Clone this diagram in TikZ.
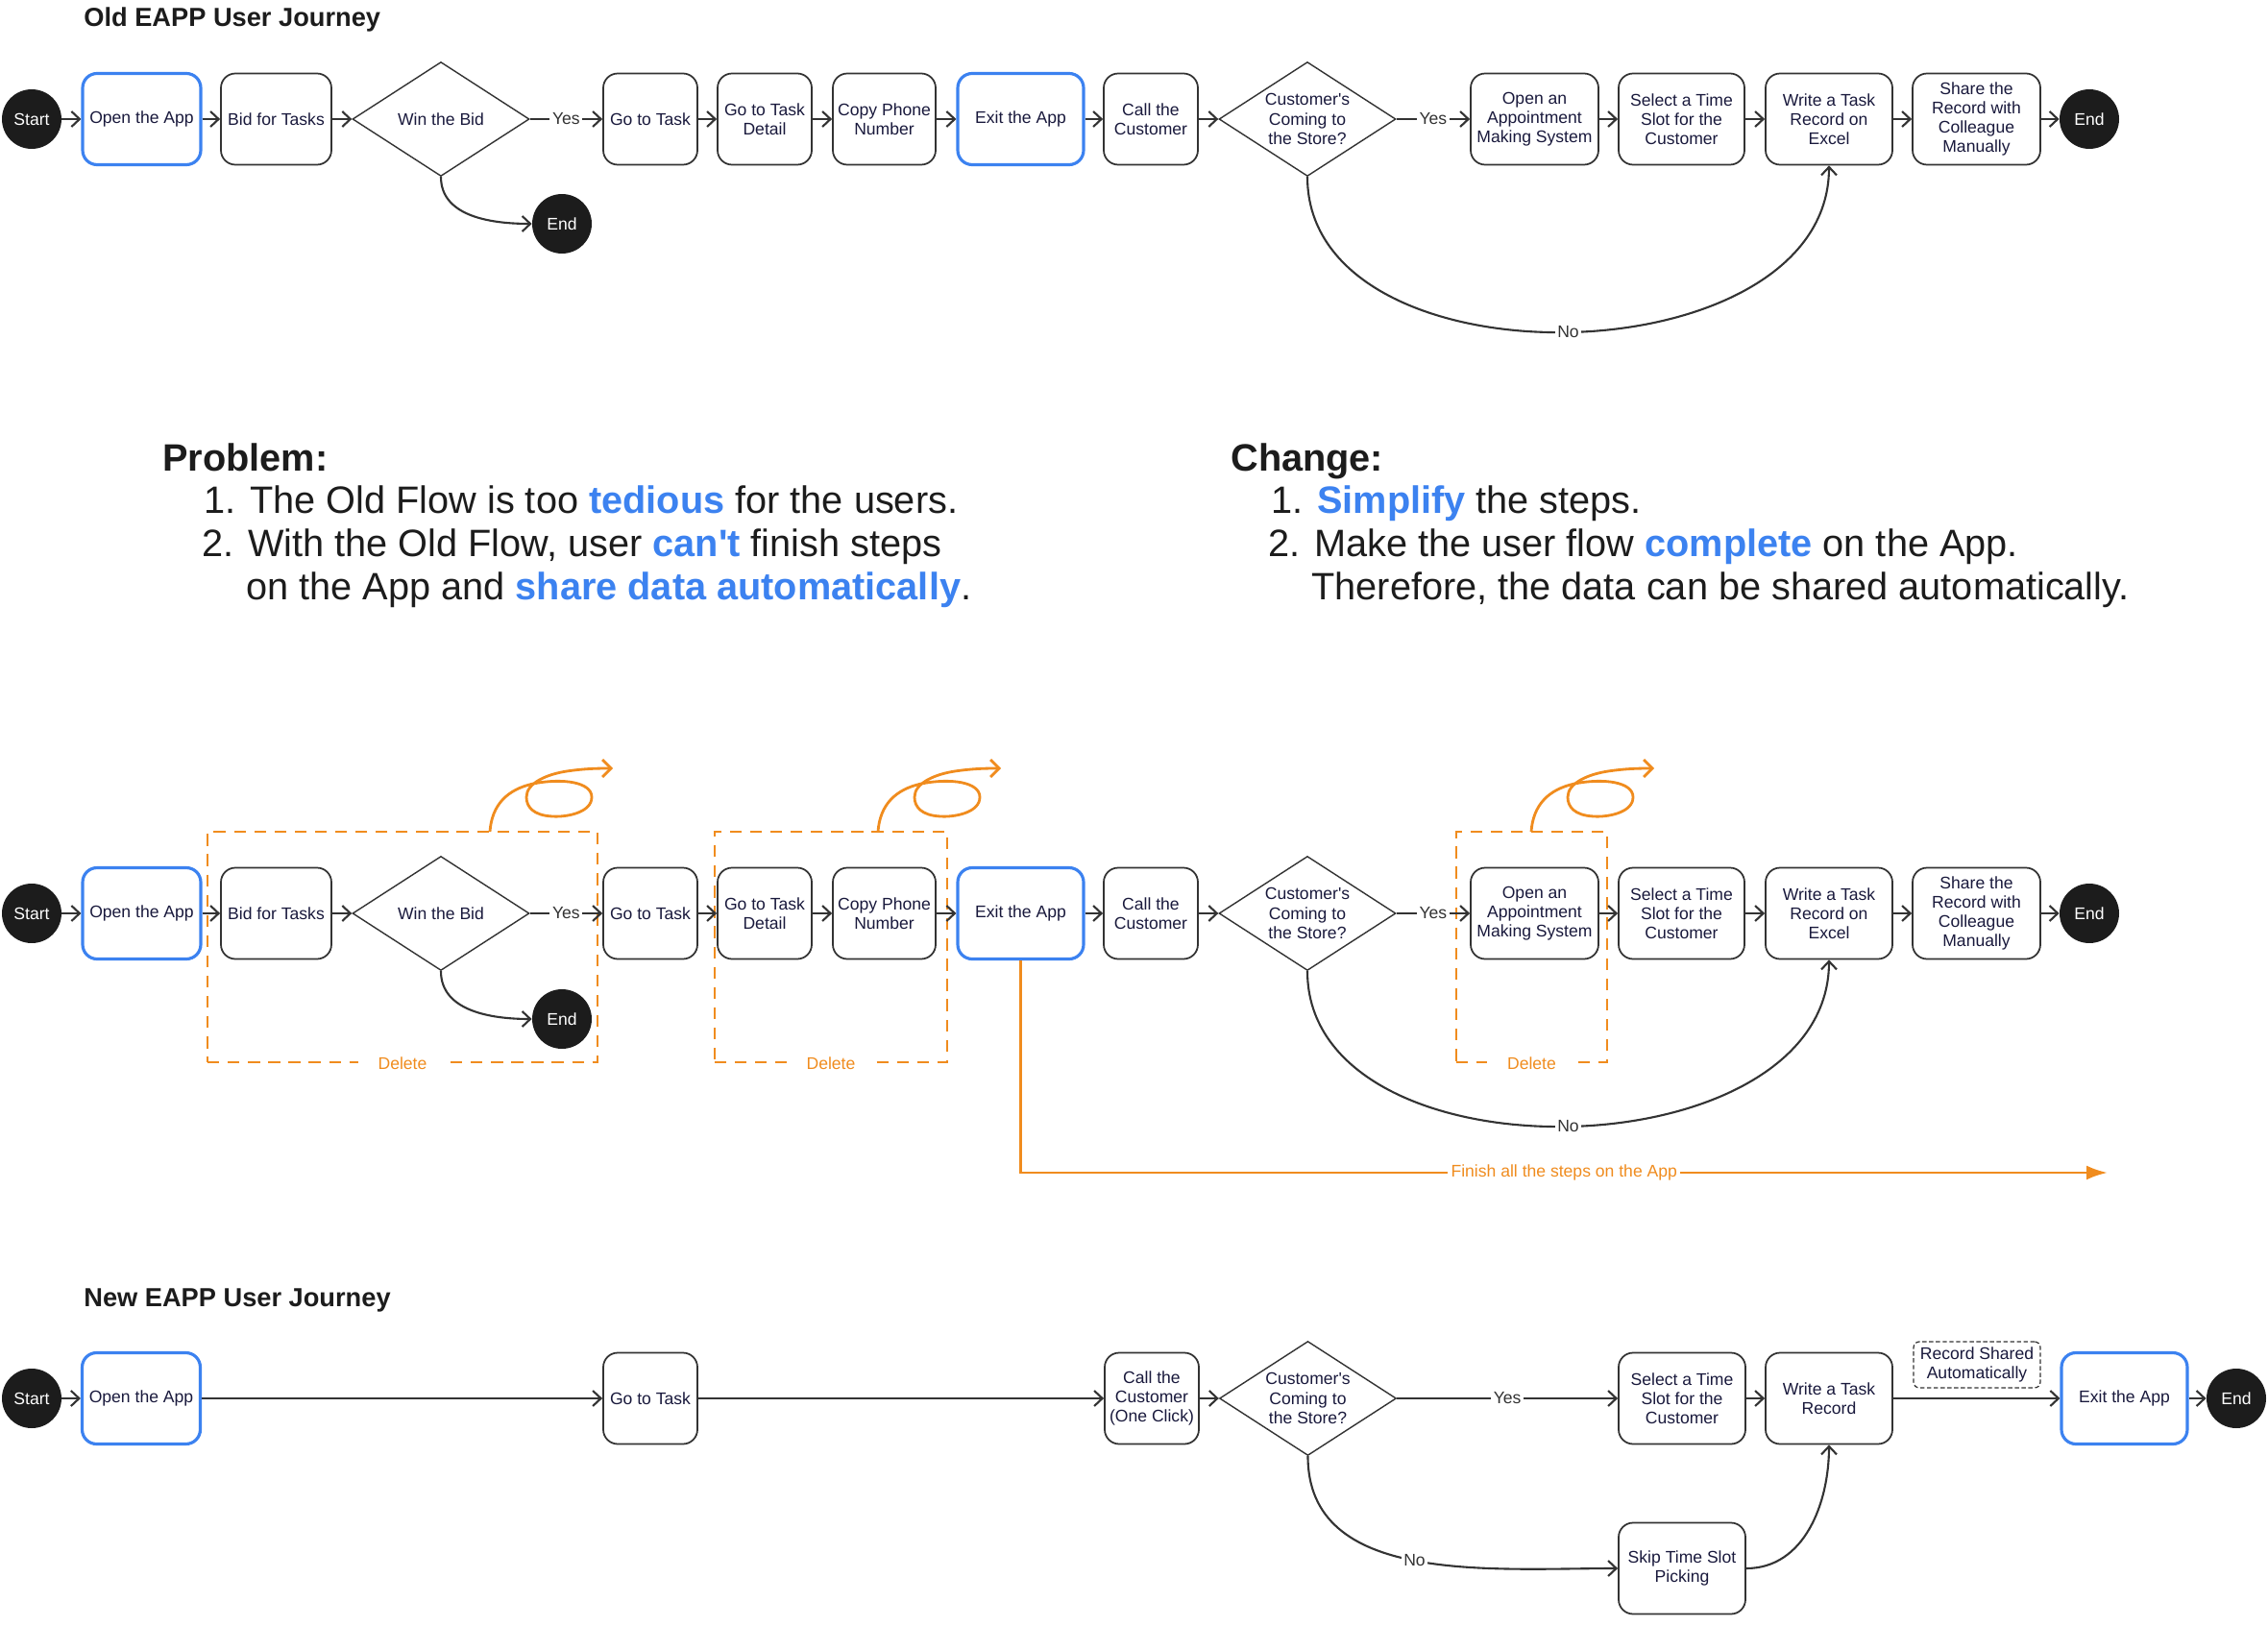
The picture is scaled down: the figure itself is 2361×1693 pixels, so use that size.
\documentclass[tikz,border=0pt]{standalone}
\usepackage{fontspec}
\setmainfont{Liberation Sans}
\usetikzlibrary{shapes.geometric,arrows.meta}

\definecolor{lineGrey}{RGB}{51,51,51}
\definecolor{appBlue}{RGB}{60,130,240}
\definecolor{delOrange}{RGB}{240,140,30}
\definecolor{txtNavy}{RGB}{25,25,60}
\definecolor{dotBlack}{RGB}{28,28,28}

\tikzset{
  stepbox/.style={draw=lineGrey, line width=1pt, rounded corners=0.3cm, minimum height=1.9cm, align=center, text=txtNavy, font=\fontsize{10}{11.5}\selectfont, inner sep=2pt},
  appbox/.style={stepbox, draw=appBlue, line width=1.8pt},
  recbox/.style={draw=lineGrey, line width=0.7pt, dash pattern=on 2.5pt off 1.5pt, rounded corners=0.12cm, minimum width=2.64cm, minimum height=0.96cm, align=center, text=txtNavy, font=\fontsize{10}{11.5}\selectfont, inner sep=1pt},
  choice/.style={draw=lineGrey, line width=0.8pt, shape=diamond, aspect=1.55, minimum width=3.68cm, minimum height=2.38cm, inner sep=0pt, align=center, text=txtNavy, font=\fontsize{10}{11.5}\selectfont},
  termdot/.style={circle, fill=dotBlack, minimum size=1.24cm, inner sep=0pt, text=white, font=\fontsize{10}{12}\selectfont},
  flow/.style={draw=lineGrey, line width=1.2pt, -{Straight Barb[length=1.7mm,width=3.2mm]}},
  edgelabel/.style={fill=white, text=lineGrey, font=\fontsize{10}{12}\selectfont, inner sep=1.5pt},
  delbox/.style={draw=delOrange, line width=1.6pt, dash pattern=on 7pt off 5pt},
  dellabel/.style={fill=white, text=delOrange, font=\fontsize{10}{12}\selectfont, inner xsep=0.42cm, inner ysep=2pt},
  finlabel/.style={fill=white, text=delOrange, font=\fontsize{10}{12}\selectfont, inner sep=2pt},
  squig/.style={draw=delOrange, line width=1.6pt, -{Straight Barb[length=1.8mm,width=3.6mm]}},
  finline/.style={draw=delOrange, line width=1.6pt, -{Latex[length=4.4mm,width=3mm]}},
  heading/.style={anchor=base west, inner sep=0pt, text=dotBlack, font=\bfseries\fontsize{15.5}{18}\selectfont},
  bigtext/.style={anchor=base west, inner sep=0pt, text=dotBlack, font=\fontsize{22.6}{27}\selectfont},
}
\newcommand{\hl}[1]{\textcolor{appBlue}{\textbf{#1}}}

\begin{document}
\begin{tikzpicture}[x=0.02cm,y=-0.02cm]
\useasboundingbox (0,0) rectangle (2361,1693);

% old journey
\node (oldtitle) [heading] at (87,28) {Old EAPP User Journey};

\node (start1) at (33,124) [termdot] {Start};
\node (open1) at (147.5,124) [appbox,minimum width=2.46cm] {Open the App};
\node (bid1) at (287.5,124) [stepbox,minimum width=2.30cm] {Bid for Tasks};
\node (win1) at (459,124) [choice] {Win the Bid};
\node (lost1) at (585,233) [termdot] {End};
\node (task1) at (677,124) [stepbox,minimum width=1.96cm] {Go to Task};
\node (detail1) at (796,124) [stepbox,minimum width=1.96cm] {Go to Task\\Detail};
\node (copy1) at (920.5,124) [stepbox,minimum width=2.14cm] {Copy Phone\\Number};
\node (exit1) at (1062.5,124) [appbox,minimum width=2.62cm] {Exit the App};
\node (call1) at (1198,124) [stepbox,minimum width=1.96cm] {Call the\\Customer};
\node (come1) at (1361,124) [choice] {Customer\textquotesingle s\\Coming to\\the Store?};
\node (appt1) at (1597.5,124) [stepbox,minimum width=2.66cm] {Open an\\Appointment\\Making System};
\node (slot1) at (1750.5,124) [stepbox,minimum width=2.62cm] {Select a Time\\Slot for the\\Customer};
\node (write1) at (1904,124) [stepbox,minimum width=2.64cm] {Write a Task\\Record on\\Excel};
\node (share1) at (2057.5,124) [stepbox,minimum width=2.66cm] {Share the\\Record with\\Colleague\\Manually};
\node (end1) at (2175,124) [termdot] {End};

\draw [flow] (start1) -- (open1);
\draw [flow] (open1) -- (bid1);
\draw [flow] (bid1) -- (win1);
\draw [flow] (win1) -- node [edgelabel] {Yes} (task1);
\draw [flow] (win1.south) to [out=-90,in=180] (lost1);
\draw [flow] (task1) -- (detail1);
\draw [flow] (detail1) -- (copy1);
\draw [flow] (copy1) -- (exit1);
\draw [flow] (exit1) -- (call1);
\draw [flow] (call1) -- (come1);
\draw [flow] (come1) -- node [edgelabel] {Yes} (appt1);
\draw [flow] (come1.south) to [out=-90,in=-90,looseness=1.05] node [edgelabel] {No} (write1.south);
\draw [flow] (appt1) -- (slot1);
\draw [flow] (slot1) -- (write1);
\draw [flow] (write1) -- (share1);
\draw [flow] (share1) -- (end1);

% problem and change
\node (prob) [bigtext,font=\bfseries\fontsize{22.6}{27}\selectfont] at (169,490) {Problem:};
\node (prob1) [bigtext] at (212,534) {1. The Old Flow is too \hl{tedious} for the users.};
\node (prob2) [bigtext] at (210,579) {2. With the Old Flow, user \hl{can\textquotesingle t} finish steps};
\node (prob3) [bigtext] at (256,624) {on the App and \hl{share data automatically}.};

\node (chg) [bigtext,font=\bfseries\fontsize{22.6}{27}\selectfont] at (1281,490) {Change:};
\node (chg1) [bigtext] at (1323,534) {1. \hl{Simplify} the steps.};
\node (chg2) [bigtext] at (1320,579) {2. Make the user flow \hl{complete} on the App.};
\node (chg3) [bigtext] at (1365,624) {Therefore, the data can be shared automatically.};

% marked old journey
\node (del1) at (419,986) [delbox,minimum width=8.12cm,minimum height=4.8cm] {};
\node (del2) at (865,986) [delbox,minimum width=4.84cm,minimum height=4.8cm] {};
\node (del3) at (1594.5,986) [delbox,minimum width=3.14cm,minimum height=4.8cm] {};
\node [dellabel] at (del1.south) {Delete};
\node [dellabel] at (del2.south) {Delete};
\node [dellabel] at (del3.south) {Delete};

\foreach \sx in {510,914,1594} {
  \draw [squig,shift={(\sx,0)}] (0,866) .. controls (2,838) and (18,822) .. (45,816)
    .. controls (75,810) and (106,814) .. (106,830)
    .. controls (106,846) and (80,851) .. (65,850)
    .. controls (45,849) and (38,840) .. (38,830)
    .. controls (38,815) and (60,806) .. (80,803)
    .. controls (100,800) and (115,800) .. (128,800);
}

\node (start2) at (33,951) [termdot] {Start};
\node (open2) at (147.5,951) [appbox,minimum width=2.46cm] {Open the App};
\node (bid2) at (287.5,951) [stepbox,minimum width=2.30cm] {Bid for Tasks};
\node (win2) at (459,951) [choice] {Win the Bid};
\node (lost2) at (585,1061) [termdot] {End};
\node (task2) at (677,951) [stepbox,minimum width=1.96cm] {Go to Task};
\node (detail2) at (796,951) [stepbox,minimum width=1.96cm] {Go to Task\\Detail};
\node (copy2) at (920.5,951) [stepbox,minimum width=2.14cm] {Copy Phone\\Number};
\node (exit2) at (1062.5,951) [appbox,minimum width=2.62cm] {Exit the App};
\node (call2) at (1198,951) [stepbox,minimum width=1.96cm] {Call the\\Customer};
\node (come2) at (1361,951) [choice] {Customer\textquotesingle s\\Coming to\\the Store?};
\node (appt2) at (1597.5,951) [stepbox,minimum width=2.66cm] {Open an\\Appointment\\Making System};
\node (slot2) at (1750.5,951) [stepbox,minimum width=2.62cm] {Select a Time\\Slot for the\\Customer};
\node (write2) at (1904,951) [stepbox,minimum width=2.64cm] {Write a Task\\Record on\\Excel};
\node (share2) at (2057.5,951) [stepbox,minimum width=2.66cm] {Share the\\Record with\\Colleague\\Manually};
\node (end2) at (2175,951) [termdot] {End};
\coordinate (finish) at (2194,1221);

\draw [flow] (start2) -- (open2);
\draw [flow] (open2) -- (bid2);
\draw [flow] (bid2) -- (win2);
\draw [flow] (win2) -- node [edgelabel] {Yes} (task2);
\draw [flow] (win2.south) to [out=-90,in=180] (lost2);
\draw [flow] (task2) -- (detail2);
\draw [flow] (detail2) -- (copy2);
\draw [flow] (copy2) -- (exit2);
\draw [flow] (exit2) -- (call2);
\draw [flow] (call2) -- (come2);
\draw [flow] (come2) -- node [edgelabel] {Yes} (appt2);
\draw [flow] (come2.south) to [out=-90,in=-90,looseness=1.05] node [edgelabel] {No} (write2.south);
\draw [flow] (appt2) -- (slot2);
\draw [flow] (slot2) -- (write2);
\draw [flow] (write2) -- (share2);
\draw [flow] (share2) -- (end2);
\draw [finline] (exit2.south) |- node [pos=0.75,finlabel] {Finish all the steps on the App} (finish);

% new journey
\node (newtitle) [heading] at (87,1360) {New EAPP User Journey};

\node (start3) at (33,1456) [termdot] {Start};
\node (open3) at (147,1456) [appbox,minimum width=2.46cm] {Open the App};
\node (task3) at (677,1456) [stepbox,minimum width=1.96cm] {Go to Task};
\node (call3) at (1199,1456) [stepbox,minimum width=1.96cm] {Call the\\Customer\\(One Click)};
\node (come3) at (1361.5,1456) [choice] {Customer\textquotesingle s\\Coming to\\the Store?};
\node (slot3) at (1751,1456) [stepbox,minimum width=2.64cm] {Select a Time\\Slot for the\\Customer};
\node (skip3) at (1751,1633) [stepbox,minimum width=2.64cm] {Skip Time Slot\\Picking};
\node (write3) at (1904,1456) [stepbox,minimum width=2.64cm] {Write a Task\\Record};
\node (auto3) at (2058,1421) [recbox] {Record Shared\\Automatically};
\node (exit3) at (2211.5,1456) [appbox,minimum width=2.62cm] {Exit the App};
\node (end3) at (2328,1456) [termdot] {End};

\draw [flow] (start3) -- (open3);
\draw [flow] (open3) -- (task3);
\draw [flow] (task3) -- (call3);
\draw [flow] (call3) -- (come3);
\draw [flow] (come3) -- node [edgelabel] {Yes} (slot3);
\draw [flow] (come3.south) to [out=-90,in=180] node [edgelabel] {No} (skip3);
\draw [flow] (skip3) to [out=0,in=-90] (write3.south);
\draw [flow] (slot3) -- (write3);
\draw [flow] (write3) -- (exit3);
\draw [flow] (exit3) -- (end3);

\end{tikzpicture}
\end{document}
